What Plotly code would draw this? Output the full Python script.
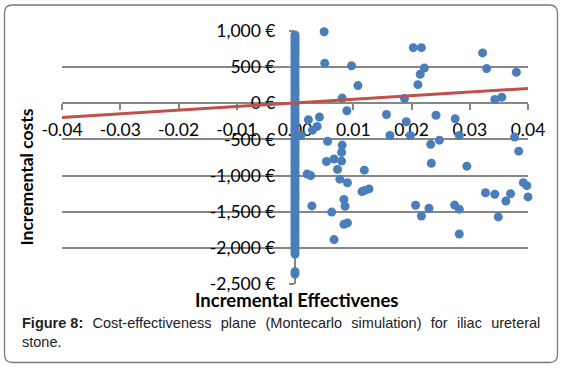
import plotly.graph_objects as go

# ---------------- data ----------------
# Monte Carlo iterations lying on the zero-effect line (x = 0)
col_y = [945, 915, 880, 845, 810, 775, 740, 700, 665, 635, 600, 560, 525, 490, 455,
         420, 380, 345, 310, 275, 235, 200, 165, 130, 95, 55, 20, -15, -50, -90,
         -125, -160, -195, -235, -270, -305, -345, -380, -415, -450, -490, -525,
         -560, -595, -635, -670, -705, -740, -780, -815, -850, -885, -925, -960,
         -995, -1030, -1070, -1105, -1140, -1175, -1215, -1250, -1285, -1320,
         -1360, -1395, -1430, -1465, -1505, -1540, -1575, -1610, -1650, -1685,
         -1720, -1755, -1795, -1830, -1865, -1900, -1940, -1975, -2010, -2045,
         -2085, -2330, -2362]

# Scattered iterations (incremental effectiveness, incremental cost)
pts_x = [0.0050, 0.0051, 0.0097, 0.0108, 0.0081, 0.0089, 0.0042, 0.0023, 0.0038,
         0.0030, 0.0010, 0.0056, 0.0081, 0.0080, 0.0067, 0.0080, 0.0054, 0.0073,
         0.0077, 0.0021, 0.0027, 0.0090, 0.0119, 0.0115, 0.0127, 0.0120, 0.0029,
         0.0084, 0.0086, 0.0063, 0.0084, 0.0090, 0.0067,
         0.0203, 0.0217, 0.0222, 0.0215, 0.0211, 0.0188, 0.0157, 0.0163, 0.0191,
         0.0198, 0.0242, 0.0233, 0.0248, 0.0234, 0.0275, 0.0282, 0.0295, 0.0322,
         0.0329, 0.0380, 0.0343, 0.0355, 0.0377, 0.0384, 0.0207, 0.0217, 0.0230,
         0.0274, 0.0282, 0.0282, 0.0327, 0.0343, 0.0370, 0.0362, 0.0349, 0.0392,
         0.0398, 0.0400]
pts_y = [990, 555, 520, 245, 72, -104, -190, -228, -320,
         -372, -445, -525, -578, -678, -770, -800, -806, -915,
         -1050, -978, -1000, -1100, -925, -1222, -1185, -1205, -1420,
         -1330, -1425, -1505, -1675, -1655, -1886,
         770, 770, 488, 402, 258, 65, -155, -445, -255,
         -445, -165, -568, -510, -830, -215, -445, -870, 697,
         480, 430, 52, 85, -468, -662, -1410, -1560, -1452,
         -1408, -1465, -1808, -1238, -1258, -1252, -1352, -1572, -1098,
         -1140, -1295]

# Threshold (willingness-to-pay) line
wtp_x = [-0.04, 0.04]
wtp_y = [-195, 205]

x_ticks = [-0.04, -0.03, -0.02, -0.01, 0.0, 0.01, 0.02, 0.03, 0.04]
x_tick_text = ["-0.04", "-0.03", "-0.02", "-0.01", "0.00", "0.01", "0.02", "0.03", "0.04"]
y_ticks = [1000, 500, 0, -500, -1000, -1500, -2000, -2500]
y_tick_text = ["1,000 €", "500 €", "0 €", "-500 €", "-1,000 €", "-1,500 €", "-2,000 €", "-2,500 €"]

x_title = "Incremental Effectivenes"
y_title = "Incremental costs"
caption_words = ["Cost-effectiveness", "plane", "(Montecarlo", "simulation)", "for",
                 "iliac", "ureteral"]
caption_label = "Figure 8:"
caption_2 = "stone."

# ---------------- layout helpers ----------------
W, H = 562, 368
ML, MR, MT, MB = 62, 34, 31, 84
PW, PH = W - ML - MR, H - MT - MB


def px(xp):
    return (xp - ML) / PW


def py(yp):
    return (H - MB - yp) / PH


GRID = "#878787"
FONT = "Lato"
GAP = "\u00a0\u200a "  # widened word gap (justified caption)

fig = go.Figure()
all_x = [0.0] * len(col_y) + pts_x
all_y = col_y + pts_y
fig.add_trace(go.Scatter(x=all_x, y=all_y, mode="markers",
                         marker=dict(color="#4a7ebb", size=9, line=dict(width=0)),
                         showlegend=False, cliponaxis=False))
fig.add_trace(go.Scatter(x=wtp_x, y=wtp_y, mode="lines",
                         line=dict(color="#c0504d", width=3),
                         showlegend=False))

fig.update_layout(
    width=W, height=H,
    margin=dict(l=ML, r=MR, t=MT, b=MB),
    paper_bgcolor="white", plot_bgcolor="white",
    xaxis=dict(range=[-0.04, 0.04], anchor="free", position=2500 / 3500,
               showgrid=False, zeroline=False,
               showline=True, linecolor=GRID, linewidth=2,
               ticks="outside", ticklen=6, tickwidth=2, tickcolor=GRID,
               tickvals=x_ticks, ticktext=x_tick_text,
               tickfont=dict(family=FONT, size=17.5, color="black"),
               ticklabelstandoff=5, layer="below traces"),
    yaxis=dict(range=[-2500, 1000], anchor="free", position=0.5,
               showgrid=True, gridcolor=GRID, gridwidth=2, zeroline=False,
               showline=True, linecolor=GRID, linewidth=2,
               ticks="outside", ticklen=5, tickwidth=2, tickcolor=GRID,
               tickvals=y_ticks, ticktext=y_tick_text,
               tickfont=dict(family=FONT, size=17.5, color="black"),
               ticklabelstandoff=10, layer="below traces"),
)

# titles and caption
fig.add_annotation(x=px(26), y=py(177.5), xref="paper", yref="paper", text="<b>" + y_title + "</b>",
                   xanchor="center", yanchor="middle",
                   textangle=-90, showarrow=False, font=dict(family=FONT, size=17.5, color="black"))
fig.add_annotation(x=px(296), y=py(299.5), xref="paper", yref="paper", text="<b>" + x_title + "</b>",
                   xanchor="center", yanchor="middle",
                   showarrow=False, font=dict(family=FONT, size=18.5, color="black"))
caption_1 = "<b>" + caption_label + "</b>" + GAP + GAP.join(caption_words)
fig.add_annotation(x=px(20), y=py(323), xref="paper", yref="paper", text=caption_1,
                   xanchor="left", yanchor="middle", showarrow=False,
                   font=dict(family="Liberation Sans", size=14.5, color="#222222"))
fig.add_annotation(x=px(20), y=py(342), xref="paper", yref="paper", text=caption_2,
                   xanchor="left", yanchor="middle", showarrow=False,
                   font=dict(family="Liberation Sans", size=14.5, color="#222222"))

# rounded frame
x0, x1, y0, y1, r = 4.5, 557.5, 5, 362.5, 8
path = (f"M {px(x0 + r)},{py(y0)} L {px(x1 - r)},{py(y0)} Q {px(x1)},{py(y0)} {px(x1)},{py(y0 + r)} "
        f"L {px(x1)},{py(y1 - r)} Q {px(x1)},{py(y1)} {px(x1 - r)},{py(y1)} "
        f"L {px(x0 + r)},{py(y1)} Q {px(x0)},{py(y1)} {px(x0)},{py(y1 - r)} "
        f"L {px(x0)},{py(y0 + r)} Q {px(x0)},{py(y0)} {px(x0 + r)},{py(y0)} Z")
fig.add_shape(type="path", path=path, xref="paper", yref="paper",
              line=dict(color="#7a7a7a", width=1.3), layer="below")

fig.write_html("out.html", config={"displayModeBar": False},
               post_script="document.body.style.margin='0';document.body.style.overflow='hidden';")
